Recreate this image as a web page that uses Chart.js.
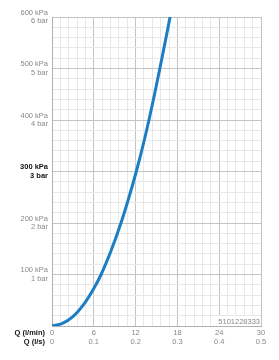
<!DOCTYPE html>
<html>
<head>
<meta charset="utf-8">
<script src="https://cdn.jsdelivr.net/npm/chart.js@4/dist/chart.umd.min.js"></script>
<style>
  body { margin: 0; background: #fff; }
  #wrap { width: 279px; height: 360px; }
</style>
</head>
<body>
<div id="wrap"><canvas id="myChart" width="279" height="360"></canvas></div>
<script>
// flow rate in l/min
var flowLmin = [0, 1.5, 3, 4.5, 6, 7.05, 8.5, 9.9, 11.05, 12.1, 13.05, 13.92, 14.72, 15.48, 16.22, 16.95];
// pressure loss in kPa
var pressureKpa = [0, 5, 18, 41, 73, 100, 147, 200, 250, 300, 350, 400, 450, 500, 550, 600];

// axis labels
var xMajor = [0, 6, 12, 18, 24, 30];
var xLsLabels = ['0', '0.1', '0.2', '0.3', '0.4', '0.5'];
var yMajor = [100, 200, 300, 400, 500, 600];
var yBarLabels = ['1 bar', '2 bar', '3 bar', '4 bar', '5 bar', '6 bar'];
var articleNo = '5101228333';

var FONT = 'Arial, "Liberation Sans", sans-serif';
var majorGrid = '#c4c4c4';
var minorGrid = '#e8e8e8';

function near(v, list) {
    for (var i = 0; i < list.length; i++) {
        if (Math.abs(v - list[i]) < 1e-6) return i;
    }
    return -1;
}

function tickVal(c) {
    return c && c.tick ? c.tick.value : NaN;
}

var points = flowLmin.map(function (q, i) { return {x: q, y: pressureKpa[i]}; });

// extra labels: Q rows and article number
var extraText = {
    id: 'extraText',
    afterDraw: function (chart) {
        var c = chart.ctx;
        var area = chart.chartArea;
        c.save();
        c.font = 'bold 7.5px ' + FONT;
        c.fillStyle = '#111';
        c.textAlign = 'right';
        c.textBaseline = 'middle';
        c.fillText('Q (l/min)', 45, 333);
        c.fillText('Q (l/s)', 45, 342);

        c.font = '7.5px ' + FONT;
        var w = c.measureText(articleNo).width;
        c.fillStyle = '#fff';
        c.fillRect(area.right - w - 3, 316, w + 2, 10);
        c.fillStyle = '#888';
        c.fillText(articleNo, area.right - 1, 321.5);
        c.restore();
    }
};

var ctx = document.getElementById('myChart').getContext('2d');
var chart = new Chart(ctx, {
    type: 'line',
    data: {
        datasets: [{
            data: points,
            borderColor: '#1b7dc4',
            borderWidth: 3,
            pointRadius: 0,
            cubicInterpolationMode: 'monotone',
            fill: false
        }]
    },
    options: {
        responsive: false,
        animation: false,
        layout: { padding: { left: 0, right: 18, top: 17, bottom: 0 } },
        plugins: { legend: { display: false }, tooltip: { enabled: false } },
        scales: {
            x: {
                type: 'linear',
                min: 0,
                max: 30,
                afterFit: function (s) { s.height = 34; },
                border: { color: '#b0b0b0' },
                grid: {
                    drawTicks: false,
                    color: function (c) { return near(tickVal(c), xMajor) >= 0 ? majorGrid : minorGrid; }
                },
                ticks: {
                    stepSize: 1.2,
                    autoSkip: false,
                    maxRotation: 0,
                    padding: 3,
                    color: '#888',
                    font: { family: FONT, size: 7.5, lineHeight: 1.15 },
                    callback: function (v) {
                        var i = near(v, xMajor);
                        return i >= 0 ? [String(xMajor[i]), xLsLabels[i]] : '';
                    }
                }
            },
            y: {
                min: 0,
                max: 600,
                afterFit: function (s) { s.width = 52; },
                border: { color: '#b0b0b0' },
                grid: {
                    drawTicks: false,
                    color: function (c) { return near(tickVal(c), yMajor) >= 0 ? majorGrid : minorGrid; }
                },
                ticks: {
                    stepSize: 20,
                    autoSkip: false,
                    padding: 4,
                    color: function (c) { return tickVal(c) === 300 ? '#111' : '#888'; },
                    font: function (c) {
                        return { family: FONT, size: 7.5, lineHeight: 1.15, weight: tickVal(c) === 300 ? 'bold' : 'normal' };
                    },
                    callback: function (v) {
                        var i = near(v, yMajor);
                        return i >= 0 ? [yMajor[i] + ' kPa', yBarLabels[i]] : '';
                    }
                }
            }
        }
    },
    plugins: [extraText]
});
</script>
</body>
</html>
